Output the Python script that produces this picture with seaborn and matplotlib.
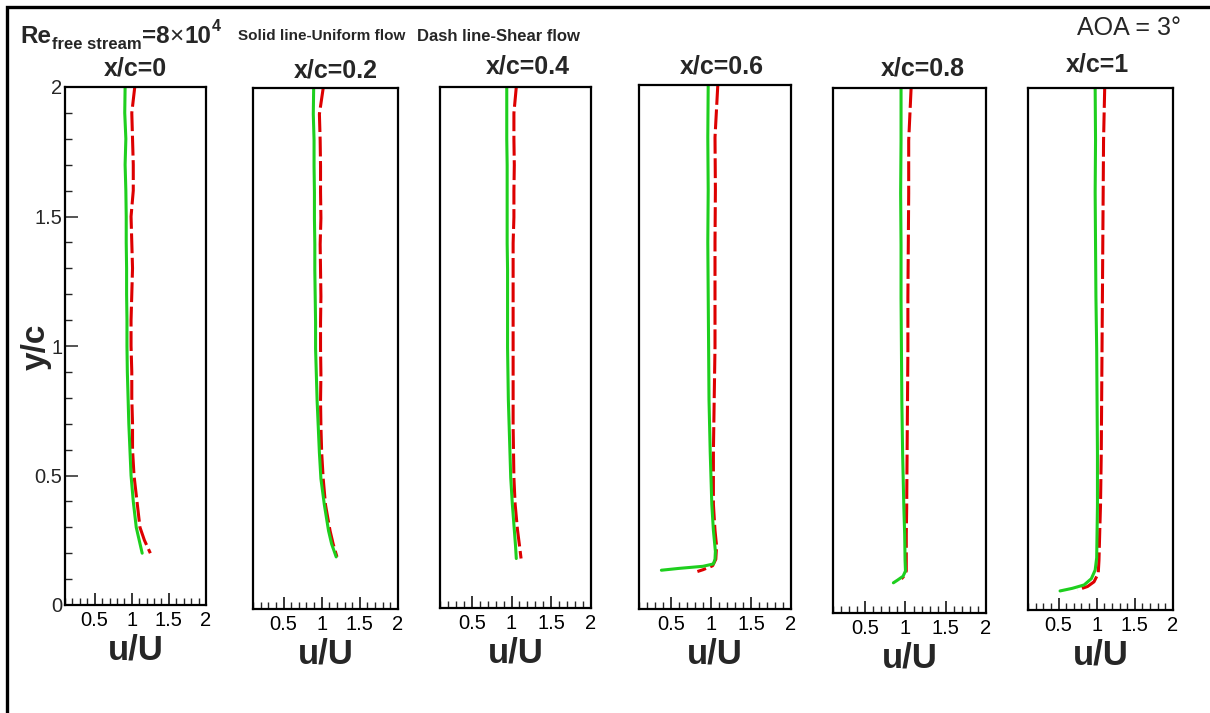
import matplotlib
matplotlib.use("Agg")
import matplotlib.pyplot as plt
from matplotlib.ticker import MultipleLocator, FixedLocator
from matplotlib.patches import Rectangle
import seaborn as sns
import pandas as pd

# ---------------- data ----------------
stations = ["x/c=0", "x/c=0.2", "x/c=0.4", "x/c=0.6", "x/c=0.8", "x/c=1"]

# x/c = 0
y_uni_0 = [2.0, 1.9, 1.8, 1.7, 1.6, 1.5, 1.4, 1.3, 1.2, 1.1, 1.0, 0.9, 0.8, 0.7, 0.6, 0.5, 0.4, 0.3, 0.25, 0.2]
u_uni_0 = [0.91, 0.905, 0.92, 0.91, 0.92, 0.925, 0.925, 0.93, 0.93, 0.935, 0.935, 0.94, 0.95, 0.96, 0.975, 0.99, 1.02, 1.06, 1.10, 1.14]
y_shr_0 = [2.0, 1.9, 1.8, 1.7, 1.6, 1.5, 1.4, 1.3, 1.2, 1.1, 1.0, 0.9, 0.8, 0.7, 0.6, 0.5, 0.4, 0.3, 0.25, 0.2]
u_shr_0 = [1.04, 1.0, 1.01, 1.02, 1.02, 0.99, 1.0, 1.01, 1.0, 0.99, 0.99, 1.0, 1.0, 1.01, 1.01, 1.03, 1.07, 1.11, 1.17, 1.25]

# x/c = 0.2
y_uni_1 = [2.0, 1.9, 1.8, 1.7, 1.6, 1.5, 1.4, 1.3, 1.2, 1.1, 1.0, 0.9, 0.8, 0.7, 0.6, 0.5, 0.4, 0.3, 0.25, 0.2]
u_uni_1 = [0.895, 0.89, 0.90, 0.90, 0.905, 0.905, 0.91, 0.91, 0.915, 0.92, 0.92, 0.93, 0.94, 0.955, 0.97, 0.99, 1.035, 1.09, 1.13, 1.19]
y_shr_1 = [2.0, 1.9, 1.8, 1.7, 1.6, 1.5, 1.4, 1.3, 1.2, 1.1, 1.0, 0.9, 0.8, 0.7, 0.6, 0.5, 0.4, 0.3, 0.25, 0.2]
u_shr_1 = [1.02, 0.97, 0.98, 0.985, 0.985, 0.99, 0.98, 0.985, 0.99, 0.985, 0.985, 0.99, 0.985, 0.99, 1.0, 1.02, 1.05, 1.11, 1.15, 1.2]

# x/c = 0.4
y_uni_2 = [2.0, 1.9, 1.8, 1.7, 1.6, 1.5, 1.4, 1.3, 1.2, 1.1, 1.0, 0.9, 0.8, 0.7, 0.6, 0.5, 0.4, 0.3, 0.24, 0.19]
u_uni_2 = [0.94, 0.94, 0.94, 0.945, 0.945, 0.945, 0.945, 0.95, 0.95, 0.95, 0.95, 0.955, 0.96, 0.97, 0.98, 0.99, 1.01, 1.035, 1.05, 1.06]
y_shr_2 = [2.0, 1.9, 1.8, 1.7, 1.6, 1.5, 1.4, 1.3, 1.2, 1.1, 1.0, 0.9, 0.8, 0.7, 0.6, 0.5, 0.4, 0.3, 0.24, 0.19]
u_shr_2 = [1.06, 1.03, 1.03, 1.035, 1.03, 1.03, 1.02, 1.02, 1.02, 1.02, 1.02, 1.02, 1.02, 1.02, 1.025, 1.03, 1.045, 1.075, 1.10, 1.12]

# x/c = 0.6
y_uni_3 = [2.0, 1.8, 1.6, 1.4, 1.2, 1.0, 0.8, 0.6, 0.4, 0.3, 0.22, 0.19, 0.172, 0.163, 0.155, 0.148]
u_uni_3 = [0.965, 0.96, 0.965, 0.96, 0.965, 0.97, 0.975, 0.99, 1.01, 1.03, 1.055, 1.05, 1.03, 0.90, 0.60, 0.38]
y_shr_3 = [2.0, 1.8, 1.6, 1.4, 1.2, 1.0, 0.8, 0.6, 0.4, 0.3, 0.24, 0.19, 0.165, 0.15, 0.143]
u_shr_3 = [1.085, 1.05, 1.055, 1.05, 1.05, 1.05, 1.04, 1.03, 1.03, 1.05, 1.07, 1.06, 1.02, 0.90, 0.83]

# x/c = 0.8
y_uni_4 = [2.0, 1.8, 1.6, 1.4, 1.2, 1.0, 0.8, 0.6, 0.4, 0.3, 0.2, 0.16, 0.14, 0.125, 0.115]
u_uni_4 = [0.945, 0.945, 0.94, 0.945, 0.945, 0.95, 0.955, 0.965, 0.98, 0.99, 0.995, 1.0, 0.97, 0.90, 0.85]
y_shr_4 = [2.0, 1.8, 1.6, 1.4, 1.2, 1.0, 0.8, 0.6, 0.4, 0.3, 0.2, 0.16, 0.14, 0.13]
u_shr_4 = [1.07, 1.04, 1.04, 1.035, 1.03, 1.03, 1.025, 1.02, 1.015, 1.01, 1.01, 1.01, 0.98, 0.95]

# x/c = 1
y_uni_5 = [2.0, 1.8, 1.6, 1.4, 1.2, 1.0, 0.8, 0.6, 0.4, 0.3, 0.2, 0.153, 0.12, 0.096, 0.083, 0.073]
u_uni_5 = [0.98, 0.985, 0.98, 0.985, 0.99, 1.0, 1.005, 1.01, 1.01, 1.005, 1.0, 0.98, 0.93, 0.835, 0.68, 0.52]
y_shr_5 = [2.0, 1.8, 1.6, 1.4, 1.2, 1.0, 0.8, 0.6, 0.4, 0.3, 0.19, 0.14, 0.108, 0.09, 0.077]
u_shr_5 = [1.105, 1.09, 1.085, 1.08, 1.075, 1.07, 1.065, 1.06, 1.05, 1.04, 1.03, 1.02, 0.965, 0.88, 0.75]

uniform_y = [y_uni_0, y_uni_1, y_uni_2, y_uni_3, y_uni_4, y_uni_5]
uniform_u = [u_uni_0, u_uni_1, u_uni_2, u_uni_3, u_uni_4, u_uni_5]
shear_y = [y_shr_0, y_shr_1, y_shr_2, y_shr_3, y_shr_4, y_shr_5]
shear_u = [u_shr_0, u_shr_1, u_shr_2, u_shr_3, u_shr_4, u_shr_5]

x_tick_values = [0.5, 1, 1.5, 2]
x_tick_labels = ["0.5", "1", "1.5", "2"]
y_tick_values = [0, 0.5, 1, 1.5, 2]
y_tick_labels = ["0", "0.5", "1", "1.5", "2"]

# ---------------- layout (pixels in a 1210x713 canvas) ----------------
W, H = 1210, 713
panel_boxes = [  # left, right, top, bottom
    (65, 206, 87, 605),
    (253, 398, 88, 609),
    (440, 591, 87, 608),
    (639, 791, 85, 609),
    (833, 986, 88, 613),
    (1028, 1173, 88, 610),
]
title_pos = [(135, 76), (336, 77), (528, 74), (722, 73), (923, 75), (1097, 72)]

GREEN = "#1ecf1e"
RED = "#dd0000"

sns.set_style("white")
plt.rcParams["font.family"] = ["Liberation Sans", "DejaVu Sans"]

fig = plt.figure(figsize=(W / 100, H / 100), dpi=100)
fig.patch.set_facecolor("white")

for i, (l, r, t, b) in enumerate(panel_boxes):
    ax = fig.add_axes([l / W, (H - b) / H, (r - l) / W, (b - t) / H])
    ax.set_facecolor("white")
    df_s = pd.DataFrame({"u": shear_u[i], "y": shear_y[i]})
    df_u = pd.DataFrame({"u": uniform_u[i], "y": uniform_y[i]})
    sns.lineplot(data=df_s, x="u", y="y", sort=False, estimator=None, ax=ax,
                 color=RED, linewidth=2.2, linestyle=(0, (6.5, 1.5)))
    sns.lineplot(data=df_u, x="u", y="y", sort=False, estimator=None, ax=ax,
                 color=GREEN, linewidth=2.2)
    ax.set_xlim(0.1, 2)
    ax.set_ylim(0, 2)
    for sp in ax.spines.values():
        sp.set_visible(True)
        sp.set_color("black")
        sp.set_linewidth(1.6)
    ax.xaxis.set_major_locator(FixedLocator(x_tick_values))
    ax.set_xticklabels(x_tick_labels)
    ax.xaxis.set_minor_locator(MultipleLocator(0.1))
    ax.tick_params(axis="x", which="major", direction="in", length=9, width=1.1,
                   labelsize=14.5, pad=4, bottom=True, top=False, colors="black")
    ax.tick_params(axis="x", which="minor", direction="in", length=5, width=1.0,
                   bottom=True, top=False)
    if i == 0:
        ax.yaxis.set_major_locator(FixedLocator(y_tick_values))
        ax.set_yticklabels(y_tick_labels)
        ax.yaxis.set_minor_locator(MultipleLocator(0.1))
        ax.tick_params(axis="y", which="major", direction="in", length=9, width=1.1,
                       labelsize=14.5, pad=2, left=True, right=False)
        ax.tick_params(axis="y", which="minor", direction="in", length=5, width=1.0,
                       left=True, right=False)
    else:
        ax.set_yticks([])
    ax.set_ylabel("")
    ax.set_xlabel("u/U", fontsize=25, fontweight="bold", labelpad=3)
    tx, ty = title_pos[i]
    fig.text(tx / W, (H - ty) / H, stations[i], fontsize=18, fontweight="bold",
             ha="center", va="baseline")

# y label
fig.text(36 / W, (H - 347) / H, "y/c", fontsize=24, fontweight="bold",
         rotation=90, ha="center", va="center")

# header: Re_{free stream}=8x10^4 built from pieces
renderer = fig.canvas.get_renderer()
pieces = [  # text, fontsize, weight, baseline offset (px, down positive)
    ("Re", 17.5, "bold", 0),
    ("free stream", 12, "bold", 6),
    ("=8", 17.5, "bold", 0),
    ("\u00d7", 17.5, "normal", 0),
    ("10", 17.5, "bold", 0),
    ("4", 11.5, "bold", -12),
]
x_px = 20
base_px = 43
for txt, fs, fw, dy in pieces:
    t = fig.text(x_px / W, (H - base_px - dy) / H, txt, fontsize=fs,
                 fontweight=fw, ha="left", va="baseline")
    x_px += t.get_window_extent(renderer).width + 0.5

fig.text(238 / W, (H - 40) / H, "Solid line-Uniform flow", fontsize=11,
         fontweight="bold", ha="left", va="baseline")
fig.text(417 / W, (H - 41) / H, "Dash line-Shear flow", fontsize=12,
         fontweight="bold", ha="left", va="baseline")
fig.text(1077 / W, (H - 35) / H, "AOA = 3°", fontsize=18,
         ha="left", va="baseline")

# outer frame (left and top edges visible)
fig.patches.append(Rectangle((7 / W, -0.05), 1.1, (H - 7) / H + 0.05,
                             transform=fig.transFigure, fill=False,
                             edgecolor="black", linewidth=2.4, zorder=0))

fig.savefig("out.png", dpi=100, facecolor="white")
